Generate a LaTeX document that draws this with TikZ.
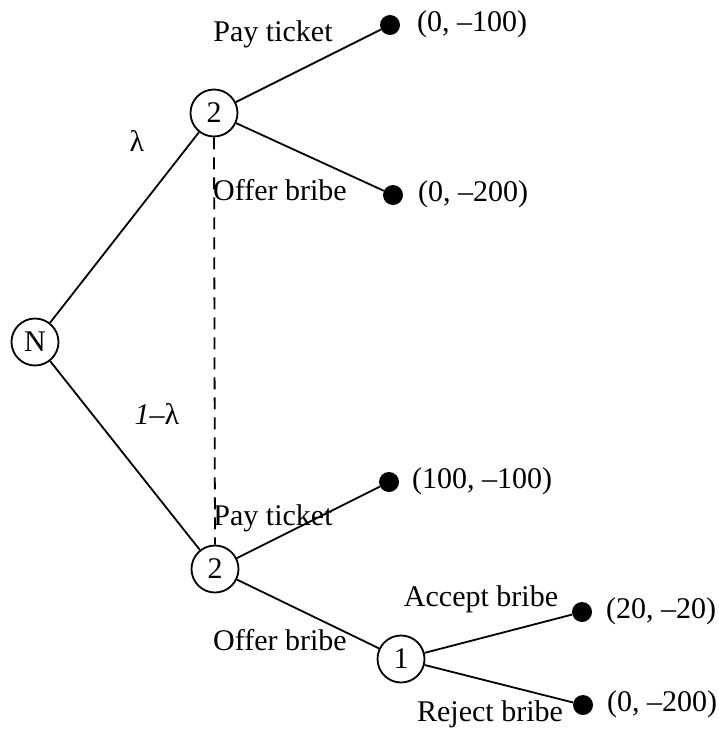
\documentclass[tikz,border=0pt]{standalone}
\usepackage{fontspec}
\setmainfont{Liberation Serif}
\begin{document}
\begin{tikzpicture}[x=1pt,y=-1pt,
  dec/.style={circle,draw,line width=1.8pt,minimum size=47pt,inner sep=0pt,font=\fontsize{30}{32}\selectfont},
  leaf/.style={circle,fill=black,minimum size=20pt,inner sep=0pt},
  br/.style={line width=1.8pt},
  lab/.style={font=\fontsize{30}{32}\selectfont,inner sep=0pt}]
\useasboundingbox (0,0) rectangle (718,731);
\node[dec] (N) at (35,342) {N};
\node[dec] (U) at (214,113) {2};
\node[dec] (L) at (215,569) {2};
\node[dec] (O) at (401,659) {1};
\node[leaf] (a) at (390,25) {};
\node[leaf] (b) at (393,195) {};
\node[leaf] (c) at (389,482) {};
\node[leaf] (d) at (582,612) {};
\node[leaf] (e) at (583,705) {};
\draw[br] (N) -- (U);
\draw[br] (N) -- (L);
\draw[br] (U) -- (a);
\draw[br] (U) -- (b);
\draw[br] (L) -- (c);
\draw[br] (L) -- (O);
\draw[br] (O) -- (d);
\draw[br] (O) -- (e);
\draw[line width=1.8pt,dash pattern=on 12pt off 8pt] (U.south) -- (L.north);
\node[lab,anchor=west] (la) at (417,24) {(0, –100)};
\node[lab,anchor=west] (lb) at (418,194) {(0, –200)};
\node[lab,anchor=west] (lc) at (412,481) {(100, –100)};
\node[lab,anchor=west] (ld) at (606,611) {(20, –20)};
\node[lab,anchor=west] (le) at (607,704) {(0, –200)};
\node[lab] (t1) at (273,34) {Pay ticket};
\node[lab] (t2) at (280,190) {Offer bribe};
\node[lab] (t3) at (137,141) {λ};
\node[lab] (t4) at (157,414) {\textit{1}–λ};
\node[lab] (t5) at (273,518) {Pay ticket};
\node[lab] (t6) at (280,640) {Offer bribe};
\node[lab] (t7) at (481,599) {Accept bribe};
\node[lab] (t8) at (490,714) {Reject bribe};
\end{tikzpicture}
\end{document}
